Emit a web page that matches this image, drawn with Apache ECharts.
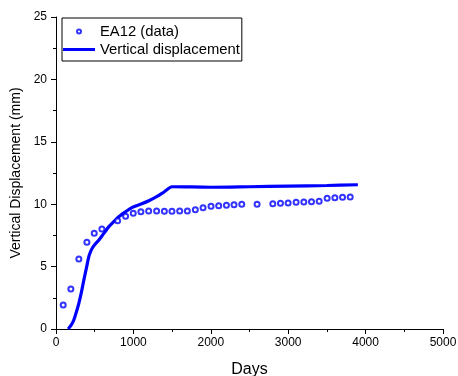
<!DOCTYPE html>
<html>
<head>
<meta charset="utf-8">
<script src="https://cdn.jsdelivr.net/npm/echarts@6/dist/echarts.min.js"></script>
<style>
  html, body { margin: 0; padding: 0; background: #fff; }
  #chart { width: 458px; height: 376px; }
</style>
</head>
<body>
<div id="chart"></div>
<script>
// measured points (days, mm)
const dataDays = [93, 192, 295, 399, 494, 593, 796, 899, 998, 1097, 1197, 1300, 1400, 1498, 1598, 1697, 1800, 1900, 2003, 2102, 2202, 2300, 2400, 2598, 2801, 2900, 2999, 3102, 3202, 3301, 3400, 3503, 3603, 3702, 3801];
const dataMm = [1.92, 3.2, 5.6, 6.95, 7.67, 8.01, 8.68, 9.03, 9.27, 9.4, 9.45, 9.45, 9.43, 9.43, 9.45, 9.45, 9.56, 9.72, 9.83, 9.88, 9.91, 9.96, 9.99, 9.99, 10.04, 10.07, 10.1, 10.15, 10.18, 10.2, 10.23, 10.47, 10.52, 10.55, 10.58];

// model curve
const modelDays = [158, 200, 230, 260, 295, 330, 360, 395, 424, 450, 468, 500, 554, 620, 683, 750, 812, 900, 985, 1100, 1200, 1300, 1400, 1500, 2000, 2500, 3000, 3500, 3900];
const modelMm = [0, 0.35, 0.72, 1.3, 2.06, 3.0, 3.93, 4.95, 5.8, 6.25, 6.47, 6.75, 7.13, 7.68, 8.2, 8.62, 9.0, 9.4, 9.75, 10.02, 10.28, 10.6, 11.0, 11.4, 11.36, 11.4, 11.45, 11.5, 11.56];

const xTicks = [0, 1000, 2000, 3000, 4000, 5000];
const yTicks = [0, 5, 10, 15, 20, 25];

const chart = echarts.init(document.getElementById('chart'));
const font = 'Arial, "Liberation Sans", sans-serif';

const axisCommon = {
  axisLine: { show: true, onZero: false, lineStyle: { color: '#000', width: 1 } },
  axisTick: { show: true, inside: false, length: 5, lineStyle: { color: '#000' } },
  minorTick: { show: true, splitNumber: 2, length: 3, lineStyle: { color: '#000' } },
  splitLine: { show: false },
  axisLabel: { color: '#000', fontSize: 12, fontFamily: font, margin: 8, formatter: v => String(v) },
  nameTextStyle: { color: '#000', fontSize: 14, fontFamily: font }
};

chart.setOption({
  animation: false,
  backgroundColor: '#fff',
  grid: { left: 56, right: 15, top: 17, bottom: 47, outerBoundsMode: 'none', containLabel: false },
  legend: {
    left: 62, top: 18,
    orient: 'vertical',
    borderColor: '#000', borderWidth: 1,
    padding: [6, 2, 4, 1],
    itemWidth: 32, itemHeight: 4, itemGap: 3,
    textStyle: { color: '#000', fontSize: 14.8, fontFamily: font },
    data: [
      { name: 'EA12 (data)', icon: 'emptyCircle', itemStyle: { borderWidth: 0.9 } },
      { name: 'Vertical displacement', icon: 'path://M0,0L32,0L32,3L0,3Z', itemStyle: { color: '#0000ff' } }
    ]
  },
  xAxis: Object.assign({}, axisCommon, {
    type: 'value', min: xTicks[0], max: xTicks[xTicks.length - 1], interval: 1000,
    name: 'Days', nameLocation: 'middle', nameGap: 33,
    nameTextStyle: Object.assign({}, axisCommon.nameTextStyle, { fontSize: 16 })
  }),
  yAxis: Object.assign({}, axisCommon, {
    type: 'value', min: yTicks[0], max: yTicks[yTicks.length - 1], interval: 5,
    name: 'Vertical Displacement (mm)', nameLocation: 'middle', nameGap: 30,
    axisLabel: Object.assign({}, axisCommon.axisLabel, { margin: 9 })
  }),
  series: [
    {
      name: 'EA12 (data)',
      type: 'scatter',
      symbol: 'emptyCircle',
      symbolSize: 5,
      itemStyle: { color: '#0000ff', borderColor: '#0000ff', borderWidth: 0.8 },
      data: dataDays.map((d, i) => [d, dataMm[i]]),
      z: 3
    },
    {
      name: 'Vertical displacement',
      type: 'line',
      symbol: 'none',
      smooth: 0.3,
      lineStyle: { color: '#0000ff', width: 3.2 },
      itemStyle: { color: '#0000ff' },
      data: modelDays.map((d, i) => [d, modelMm[i]]),
      z: 2
    }
  ]
});
</script>
</body>
</html>
